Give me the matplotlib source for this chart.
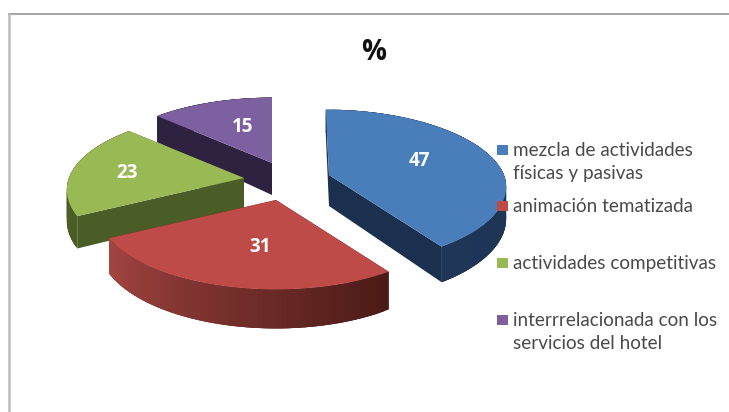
#!/usr/bin/env python3
"""Exploded 3D-look pie chart of hotel animation types, drawn by hand with polygons."""
import matplotlib
matplotlib.use('Agg')
import matplotlib.pyplot as plt
from matplotlib.colors import to_rgb
from matplotlib.patches import Polygon, Rectangle
import numpy as np

# Data
categories = ['mezcla de actividades\nfísicas y pasivas', 'animación tematizada',
              'actividades competitivas', 'interrrelacionada con los\nservicios del hotel']
values = [47, 31, 23, 15]

# Slice styles
TOP_COLORS = ['#4A7EBB', '#BE4B48', '#98B954', '#7D60A0']
FACE_COLORS = ['#1B304E', '#5A1F1C', '#4A5D26', '#2F2240']
ARC_START = ['#1B304E', '#4A1A16', '#4A5D26', '#2F2240']
ARC_END = ['#1F3658', '#A34542', '#4F6329', '#2F2240']
TEXT_GRAY = '#4A4A4A'

# Pixel layout
apex_xy = [(329, 175), (276, 200), (244, 178), (272, 163)]
depths = [31, 33, 30, 32]
leans = [0.05, 0, 0, 0]
label_xy = [(419, 161), (260, 247), (127, 173), (243, 127)]
legend_y = [150, 206, 263, 320]
draw_order = [3, 2, 0, 1]
RX, RY, PERSP = 175, 75.5, 0.155

plt.rcParams['font.family'] = ['Lato', 'DejaVu Sans']

fig = plt.figure(figsize=(7.29, 4.12), dpi=100)
fig.patch.set_facecolor('white')
ax = fig.add_axes([0, 0, 1, 1])
ax.set_xlim(0, 729)
ax.set_ylim(412, 0)
ax.axis('off')


def project(theta, apex, lean):
    # clockwise angle from 12 o'clock -> screen position, near edge drawn larger
    X, Y = np.sin(theta), np.cos(theta)
    s = 1 / (1 + PERSP * Y)
    x = apex[0] + RX * X * s - lean * RY * np.maximum(Y, 0) * s
    y = apex[1] - RY * Y * s
    return x, y, s, Y


def drop(d, s, Y):
    # extrusion shrinks quicker towards the back of the pie
    return d * s ** np.where(Y > 0, 2, 1)


def draw_slice(i, t0, t1, z):
    apex, d, lean = apex_xy[i], depths[i], leans[i]
    th = np.linspace(t0, t1, 60)
    x, y, s, Y = project(th, apex, lean)
    dy = drop(d, s, Y)
    # flat cut faces
    for k in (0, -1):
        pts = [apex, (apex[0], apex[1] + d), (x[k], y[k] + dy[k]), (x[k], y[k])]
        ax.add_patch(Polygon(pts, closed=True, fc=FACE_COLORS[i], ec='none', zorder=z))
    # curved rim: each strip overlaps the next one so no seams show
    c0, c1 = np.array(to_rgb(ARC_START[i])), np.array(to_rgb(ARC_END[i]))
    for k in range(len(th) - 1):
        col = c0 + (c1 - c0) * k / (len(th) - 2)
        m = min(k + 3, len(th) - 1)
        pts = list(zip(x[k:m + 1], y[k:m + 1])) + list(zip(x[k:m + 1], (y + dy)[k:m + 1]))[::-1]
        ax.add_patch(Polygon(pts, closed=True, fc=col, ec='none', zorder=z))
    top = [apex] + list(zip(x, y))
    ax.add_patch(Polygon(top, closed=True, fc=TOP_COLORS[i], ec='none', zorder=z + 0.5))


# Frame, only top and left edges
ax.plot([8, 729], [13.5, 13.5], color='#8C8C8C', lw=1.1, solid_capstyle='butt')
ax.plot([9, 9], [13, 412], color='#BDBDBD', lw=1.8, solid_capstyle='butt')

# Slices: angles come straight from the values
edges = np.concatenate([[0], np.cumsum(values)]) / np.sum(values) * 2 * np.pi
for n, i in enumerate(draw_order):
    draw_slice(i, edges[i], edges[i + 1], 2 + n)
    ax.text(label_xy[i][0], label_xy[i][1], str(values[i]), ha='center', va='center',
            fontsize=13.5, fontweight='bold', family=['Open Sans', 'DejaVu Sans'],
            color='white', zorder=40)

ax.text(374, 52, '%', ha='center', va='center', fontsize=20, fontweight='bold',
        family=['Open Sans', 'DejaVu Sans'], color='#111111', zorder=40)

# Legend
for i, cat in enumerate(categories):
    y = legend_y[i]
    ax.add_patch(Rectangle((497, y - 5), 11, 10, fc=TOP_COLORS[i], ec='none', zorder=30))
    ax.text(513, y - 8, cat, ha='left', va='top', fontsize=13.6, color=TEXT_GRAY,
            linespacing=1.4, zorder=30)

plt.savefig('out.png', dpi=100, facecolor='white')
plt.close()
